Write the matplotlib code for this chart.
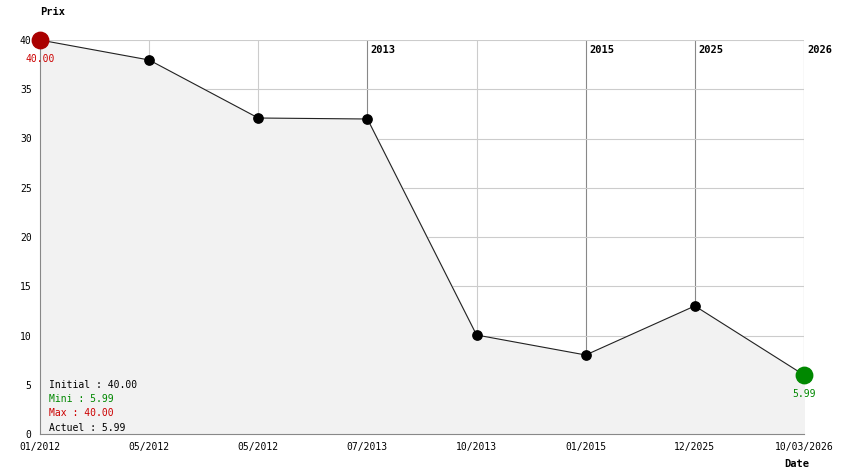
import matplotlib.pyplot as plt

dates = ["01/2012", "05/2012", "05/2012", "07/2013", "10/2013", "01/2015", "12/2025", "10/03/2026"]
prices = [40.00, 37.97, 32.08, 31.98, 10.05, 8.02, 13.0, 5.99]
year_marks = {3: "2013", 5: "2015", 6: "2025", 7: "2026"}
summary = [("Initial : 40.00", "black"), ("Mini : 5.99", "#008800"),
           ("Max : 40.00", "#cc0000"), ("Actuel : 5.99", "black")]

plt.rcParams["font.family"] = "DejaVu Sans Mono"
fig = plt.figure(figsize=(8.44, 4.74), dpi=100, facecolor="white")
ax = fig.add_axes([40 / 844, 40 / 474, 764 / 844, 394 / 474])
x = list(range(len(prices)))

ax.set_xlim(0, len(prices) - 1)
ax.set_ylim(0, 40)
for i in x:
    dark = i in year_marks
    ax.axvline(i, color="#888888" if dark else "#cccccc", lw=0.8, zorder=1)
    if dark:
        ax.text(i + 0.03, 40 - 1.0, year_marks[i], fontsize=7.5, fontweight="bold",
                va="center", ha="left")
for y in range(5, 41, 5):
    ax.axhline(y, color="#cccccc", lw=0.8, zorder=1)

ax.fill_between(x, prices, 0, color="#f2f2f2", zorder=2)
ax.plot(x, prices, color="#222222", lw=0.8, zorder=3)
ax.scatter(x[1:-1], prices[1:-1], s=45, color="black", zorder=4)
ax.scatter([x[0]], [prices[0]], s=140, color="#aa0000", zorder=5, clip_on=False)
ax.scatter([x[-1]], [prices[-1]], s=140, color="#008800", zorder=5, clip_on=False)
ax.text(x[0], prices[0] - 1.9, "40.00", color="#cc0000", fontsize=7, ha="center", va="center")
ax.text(x[-1], prices[-1] - 1.9, "5.99", color="#008800", fontsize=7, ha="center", va="center")

for k, (t, c) in enumerate(summary):
    ax.text(0.08, 5.0 - k * 1.45, t, color=c, fontsize=7, va="center")

ax.set_xticks(x)
ax.set_xticklabels(dates)
ax.set_yticks(range(0, 41, 5))
ax.tick_params(labelsize=7, length=0, pad=6)
for s in ["top", "right"]:
    ax.spines[s].set_visible(False)
ax.spines["left"].set_color("#888888")
ax.spines["bottom"].set_color("#888888")
fig.text(40 / 844, 1 - 12 / 474, "Prix", fontsize=7.5, fontweight="bold", va="center")
fig.text(784 / 844, 1 - 464 / 474, "Date", fontsize=7.5, fontweight="bold", va="center")

fig.savefig("out.png", dpi=100)
